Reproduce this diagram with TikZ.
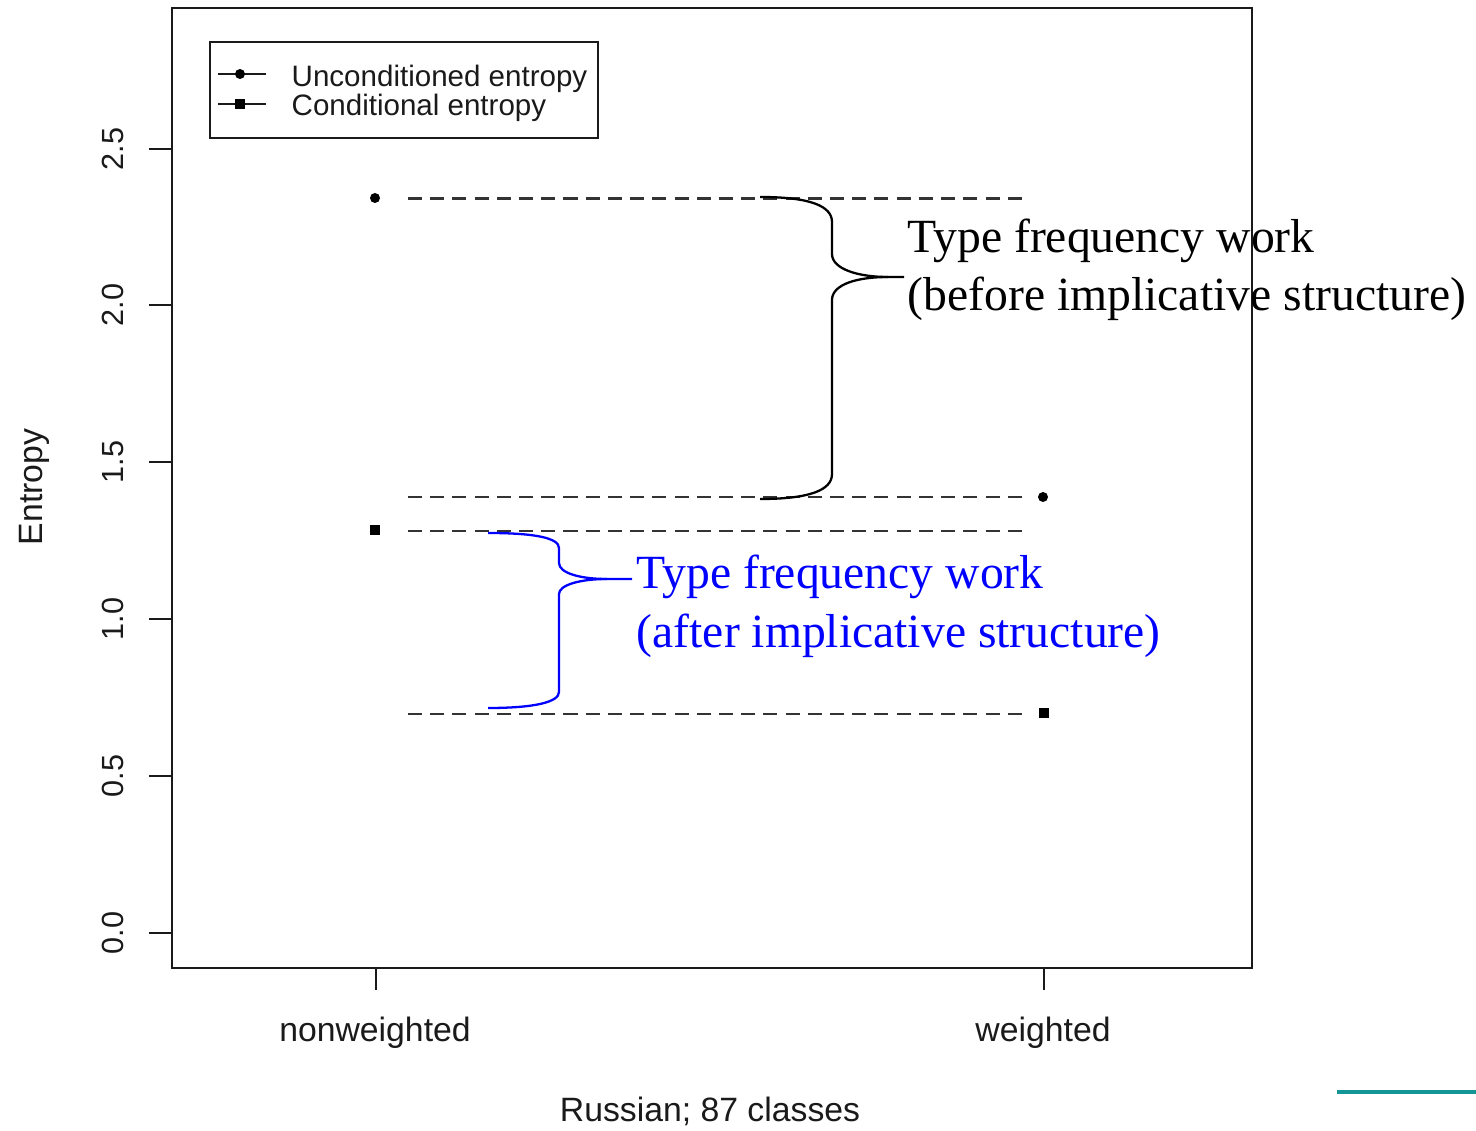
\documentclass[tikz,border=0pt]{standalone}
\usepackage{fontspec}
\setmainfont{Liberation Serif}
\setsansfont{Liberation Sans}
\definecolor{rtext}{HTML}{1A1A1A}
\definecolor{dashcol}{HTML}{333333}
\definecolor{tealline}{RGB}{20,150,150}
\begin{document}
\begin{tikzpicture}[x=0.01cm,y=-0.01cm,
  axlab/.style={font=\sffamily\fontsize{9.6}{11}\selectfont, text=rtext, inner sep=0, anchor=base},
  ticklab/.style={font=\sffamily\fontsize{8.7}{10}\selectfont, text=rtext, rotate=90, inner sep=0, anchor=base},
  legtext/.style={font=\sffamily\fontsize{8.4}{10}\selectfont, text=rtext, inner sep=0, anchor=base west},
  anno/.style={font=\fontsize{13.55}{16.5}\selectfont, inner sep=0, anchor=base west},
  dline/.style={dashcol, line width=0.85pt, dash pattern=on 0.14cm off 0.082cm},
  bracepath/.style={line width=0.65pt},
  frameline/.style={line width=0.75pt, rtext},
  ptc/.style={circle, fill=black, inner sep=0, minimum size=0.1cm},
  pts/.style={rectangle, fill=black, inner sep=0, minimum size=0.105cm}]
\useasboundingbox (0,0) rectangle (1476,1131);

% plot frame
\draw[frameline] (172,8) rectangle (1252,968);

% y axis ticks and labels
\foreach \v/\yy [count=\i] in {0.0/933, 0.5/776, 1.0/619, 1.5/462, 2.0/305, 2.5/149} {
  \draw[frameline] (172,\yy) -- (149,\yy);
  \node[ticklab] (yt\i) at (123,\yy) {\v};
}
\node[axlab, rotate=90] (ylab) at (42,487) {Entropy};

% x axis ticks and labels
\draw[frameline] (376,968) -- (376,990);
\draw[frameline] (1044,968) -- (1044,990);
\node[axlab] (xl1) at (375,1041) {nonweighted};
\node[axlab] (xl2) at (1043,1041) {weighted};
\node[axlab] (xlab) at (710,1121) {Russian; 87 classes};

% legend
\draw[frameline] (210,42) rectangle (598,138);
\coordinate (la1) at (218,74);
\coordinate (lb1) at (266,74);
\coordinate (la2) at (218,104);
\coordinate (lb2) at (266,104);
\draw[frameline] (la1) -- (lb1);
\draw[frameline] (la2) -- (lb2);
\node[ptc] (lm1) at (240,74) {};
\node[pts] (lm2) at (240,104) {};
\node[legtext] (lt1) at (291,87) {Unconditioned entropy};
\node[legtext] (lt2) at (291,116) {Conditional entropy};

% data points
\node[ptc] (u1) at (375,198) {};
\node[pts] (c1) at (375,530) {};
\node[ptc] (u2) at (1043,497) {};
\node[pts] (c2) at (1044,713) {};

% dashed reference lines
\coordinate (d1a) at (408,199); \coordinate (d1b) at (1022,199);
\coordinate (d2a) at (408,497); \coordinate (d2b) at (1022,497);
\coordinate (d3a) at (408,531); \coordinate (d3b) at (1022,531);
\coordinate (d4a) at (408,714); \coordinate (d4b) at (1022,714);
\draw[dline] (d1a) -- (d1b);
\draw[dline] (d2a) -- (d2b);
\draw[dline] (d3a) -- (d3b);
\draw[dline] (d4a) -- (d4b);

% black brace
\draw[bracepath] (760,197) .. controls (810,197) and (832,206) .. (832,222) -- (832,254)
  .. controls (832,269) and (858,277) .. (888,277) -- (904,277);
\draw[bracepath] (888,277) .. controls (858,277) and (832,284) .. (832,300) -- (832,474)
  .. controls (832,490) and (810,499) .. (760,499);

% blue brace
\draw[bracepath, blue] (488,533) .. controls (535,533) and (559,538) .. (559,548) -- (559,563)
  .. controls (559,573) and (580,579) .. (607,579) -- (632,579);
\draw[bracepath, blue] (607,579) .. controls (580,579) and (559,585) .. (559,594) -- (559,692)
  .. controls (559,702) and (535,708) .. (488,708);

% annotations
\node[anno] (a1) at (907,253) {Type frequency work};
\node[anno] (a2) at (907,311) {(before implicative structure)};
\node[anno, text=blue] (b1) at (636,589) {Type frequency work};
\node[anno, text=blue] (b2) at (636,647) {(after implicative structure)};

% teal line at bottom right
\draw[tealline, line width=0.04cm] (1337,1092) -- (1476,1092);
\end{tikzpicture}
\end{document}
